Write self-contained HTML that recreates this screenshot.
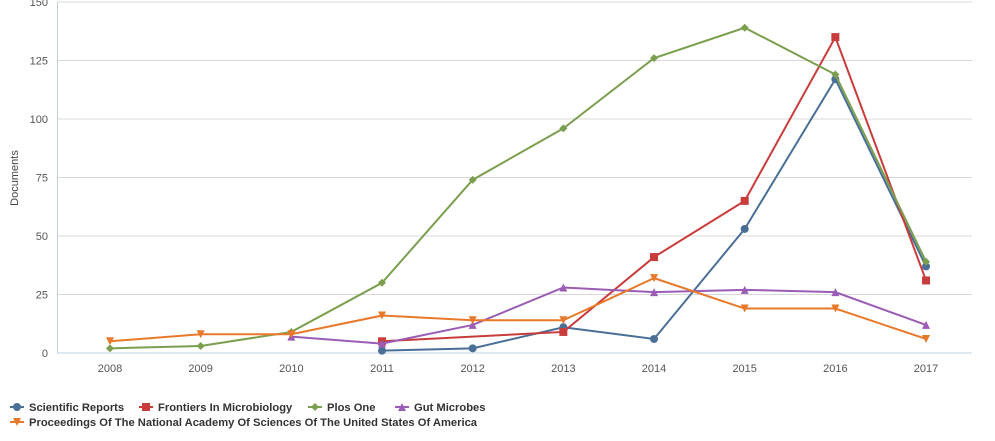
<!DOCTYPE html>
<html><head><style>body{margin:0;background:#fff}svg{display:block;font-family:"Liberation Sans",sans-serif}</style></head>
<body>
<svg id="s" width="995" height="441" xmlns="http://www.w3.org/2000/svg"></svg>
<script>
var s=document.getElementById('s'),h='';
function X(y){return 110+(y-2008)*90.67}
function Y(v){return 353-v*2.34}
[0,25,50,75,100,125,150].forEach(function(v){var y=Y(v);
 h+='<line x1="57" x2="972" y1="'+y+'" y2="'+y+'" stroke="'+(v?'#d8d8d8':'#c0d0e0')+'" stroke-width="1"/>';
 h+='<text x="48" y="'+(y+4)+'" font-size="11" fill="#555" text-anchor="end">'+v+'</text>';});
h+='<line x1="57.5" x2="57.5" y1="2" y2="353" stroke="#c0d0e0"/>';
for(var yr=2008;yr<=2017;yr++)h+='<text x="'+X(yr)+'" y="372" font-size="11" fill="#555" text-anchor="middle">'+yr+'</text>';
h+='<text transform="translate(18,178) rotate(-90)" font-size="11" fill="#444" text-anchor="middle">Documents</text>';
var S=[
['#4a6f96','c',{2011:1,2012:2,2013:11,2014:6,2015:53,2016:117,2017:37}],
['#c83c3c','q',{2011:5,2012:7,2013:9,2014:41,2015:65,2016:135,2017:31}],
['#7b9f4e','d',{2008:2,2009:3,2010:9,2011:30,2012:74,2013:96,2014:126,2015:139,2016:119,2017:39}],
['#9a5cb4','t',{2010:7,2011:4,2012:12,2013:28,2014:26,2015:27,2016:26,2017:12}],
['#e8792a','v',{2008:5,2009:8,2010:8,2011:16,2012:14,2013:14,2014:32,2015:19,2016:19,2017:6}]];
function M(t,x,y,c){
 if(t=='c')return '<circle cx="'+x+'" cy="'+y+'" r="4" fill="'+c+'"/>';
 if(t=='q')return '<rect x="'+(x-4)+'" y="'+(y-4)+'" width="8" height="8" fill="'+c+'"/>';
 if(t=='d')return '<path d="M'+x+' '+(y-4)+'L'+(x+4)+' '+y+'L'+x+' '+(y+4)+'L'+(x-4)+' '+y+'Z" fill="'+c+'"/>';
 if(t=='t')return '<path d="M'+x+' '+(y-4)+'L'+(x+4)+' '+(y+4)+'L'+(x-4)+' '+(y+4)+'Z" fill="'+c+'"/>';
 return '<path d="M'+x+' '+(y+4)+'L'+(x+4)+' '+(y-4)+'L'+(x-4)+' '+(y-4)+'Z" fill="'+c+'"/>';}
S.forEach(function(a){var p=[],m='';for(var k in a[2]){var x=X(+k),y=Y(a[2][k]);p.push(x+','+y);if(!(a[1]=='q'&&k==2012))m+=M(a[1],x,y,a[0]);}
 h+='<polyline points="'+p.join(' ')+'" fill="none" stroke="'+a[0]+'" stroke-width="2"/>'+m;});
var L=[['Scientific Reports',15,407],['Frontiers In Microbiology',144,407],['Plos One',313,407],['Gut Microbes',400,407],['Proceedings Of The National Academy Of Sciences Of The United States Of America',15,422]];
L.forEach(function(l,i){var a=S[i];h+='<line x1="'+(l[1]-5)+'" x2="'+(l[1]+9)+'" y1="'+l[2]+'" y2="'+l[2]+'" stroke="'+a[0]+'" stroke-width="2"/>'+M(a[1],l[1]+2,l[2],a[0]);
 h+='<text x="'+(l[1]+14)+'" y="'+(l[2]+4)+'" font-size="11.2" font-weight="bold" fill="#333">'+l[0]+'</text>';});
s.innerHTML=h;
</script>
</body></html>
